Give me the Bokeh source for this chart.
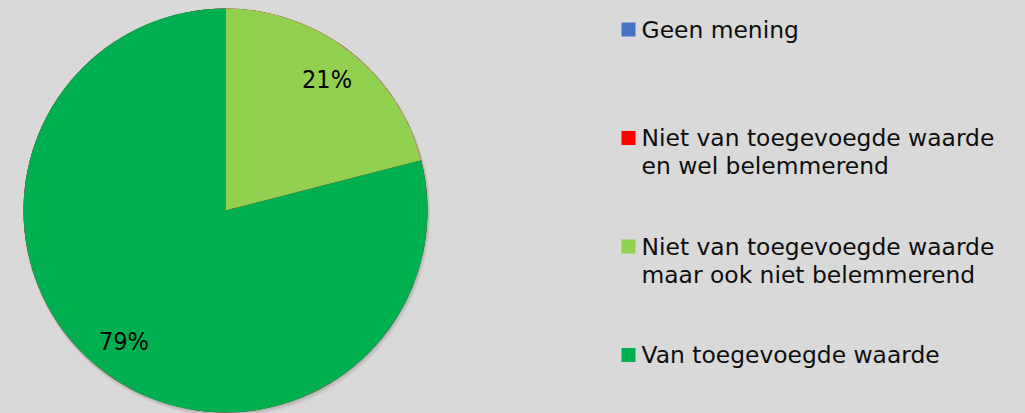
import math
from bokeh.plotting import figure
from bokeh.models import ColumnDataSource, Range1d
from bokeh.core.properties import value
from bokeh.embed import file_html
from bokeh.resources import INLINE

# ---- data ----
categories = ["Geen mening",
              "Niet van toegevoegde waarde\nen wel belemmerend",
              "Niet van toegevoegde waarde\nmaar ook niet belemmerend",
              "Van toegevoegde waarde"]
values = [0, 0, 21, 79]
colors = ["#4472c4", "#ff0000", "#92d050", "#00b050"]

# ---- layout constants ----
W, H = 1025, 413
BG = "#d9d9d9"
FONT = "DejaVu Sans"
LABEL_FONT = "'Liberation Sans Narrow', 'DejaVu Sans Condensed', Roboto"
cx, cy, R = 225, 203, 202
leg_x, leg_top = 628, 384
leg_step, line_step = 108.5, 28

total = sum(values)
starts, ends, lx, ly, ltxt = [], [], [], [], []
ang = math.pi / 2
for v in values:
    sweep = 2 * math.pi * v / total
    starts.append(ang - sweep)
    ends.append(ang)
    mid = ang - sweep / 2
    if v > 0:
        lx.append(cx + 0.82 * R * math.cos(mid))
        ly.append(cy + 0.82 * R * math.sin(mid))
        ltxt.append(f"{round(100 * v / total)}%")
    ang -= sweep

p = figure(width=W, height=H, output_backend="svg", toolbar_location=None,
           x_range=Range1d(0, W), y_range=Range1d(0, H), min_border=0,
           background_fill_color=BG, border_fill_color=BG, outline_line_color=None)
p.axis.visible = False
p.grid.visible = False

# soft shadow
for off, a in [(3, 0.10), (2, 0.15), (1, 0.2)]:
    p.circle(x=[cx + off * 0.5], y=[cy - off], radius=R + off * 0.5, radius_units="screen",
             fill_color="#808080", fill_alpha=a, line_color=None)

src = ColumnDataSource(dict(start=starts, end=ends, color=colors))
p.wedge(x=cx, y=cy, radius=R, radius_units="screen", start_angle="start", end_angle="end",
        fill_color="color", line_color=None, source=src)

p.text(x=lx, y=ly, text=ltxt, text_font=value(LABEL_FONT), text_font_size="25px",
       text_color="black", text_align="center", text_baseline="middle")

# legend
sq_x, sq_y, sq_c, tx, ty, tt = [], [], [], [], [], []
for i, (cat, col) in enumerate(zip(categories, colors)):
    y0 = leg_top - i * leg_step
    sq_x.append(leg_x); sq_y.append(y0); sq_c.append(col)
    for j, line in enumerate(cat.split("\n")):
        tx.append(leg_x + 13); ty.append(y0 - j * line_step); tt.append(line)

p.scatter(x=sq_x, y=sq_y, marker="square", size=14, fill_color=sq_c, line_color=None)
p.text(x=tx, y=ty, text=tt, text_font=value(FONT), text_font_size="23.4px",
       text_color="#0d0d0d", text_align="left", text_baseline="middle")

html = file_html(p, INLINE)
html = html.replace("<head>", "<head><style>html, body { background: #d9d9d9; }</style>", 1)
open("out.html", "w").write(html)
